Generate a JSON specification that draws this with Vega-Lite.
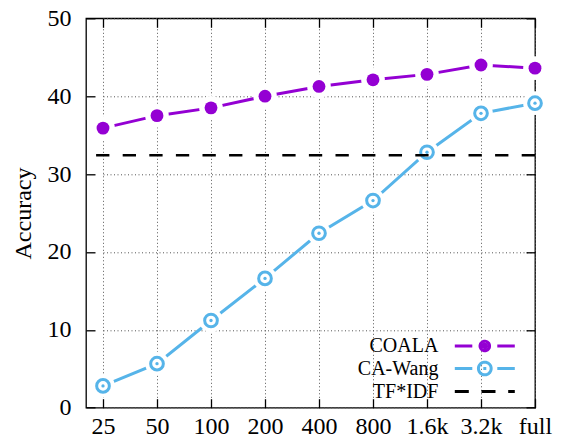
{
  "$schema": "https://vega.github.io/schema/vega-lite/v6.json",
  "width": 449,
  "height": 389.4,
  "autosize": "none",
  "padding": {"left": 86, "top": 18.3, "right": 26, "bottom": 32.3},
  "background": "white",
  "config": {
    "view": {"stroke": "black", "strokeWidth": 1.3},
    "font": "Liberation Serif",
    "axis": {
      "labelFont": "Liberation Serif",
      "labelFontSize": 24,
      "labelColor": "black",
      "titleFont": "Liberation Serif",
      "titleFontSize": 24,
      "titleFontWeight": "normal",
      "titleColor": "black",
      "domain": false,
      "tickColor": "black",
      "tickWidth": 1.3,
      "tickSize": -9,
      "gridColor": "#555555",
      "gridDash": [1, 2.5],
      "gridWidth": 1,
      "labelOverlap": false
    }
  },
  "datasets": {
    "acc": [
      {"n": "25", "i": 0, "series": "COALA", "acc": 35.9},
      {"n": "50", "i": 1, "series": "COALA", "acc": 37.5},
      {"n": "100", "i": 2, "series": "COALA", "acc": 38.5},
      {"n": "200", "i": 3, "series": "COALA", "acc": 40.0},
      {"n": "400", "i": 4, "series": "COALA", "acc": 41.25},
      {"n": "800", "i": 5, "series": "COALA", "acc": 42.1},
      {"n": "1.6k", "i": 6, "series": "COALA", "acc": 42.8},
      {"n": "3.2k", "i": 7, "series": "COALA", "acc": 44.0},
      {"n": "full", "i": 8, "series": "COALA", "acc": 43.6},
      {"n": "25", "i": 0, "series": "CA-Wang", "acc": 2.8},
      {"n": "50", "i": 1, "series": "CA-Wang", "acc": 5.65},
      {"n": "100", "i": 2, "series": "CA-Wang", "acc": 11.2},
      {"n": "200", "i": 3, "series": "CA-Wang", "acc": 16.6},
      {"n": "400", "i": 4, "series": "CA-Wang", "acc": 22.4},
      {"n": "800", "i": 5, "series": "CA-Wang", "acc": 26.6},
      {"n": "1.6k", "i": 6, "series": "CA-Wang", "acc": 32.8},
      {"n": "3.2k", "i": 7, "series": "CA-Wang", "acc": 37.8},
      {"n": "full", "i": 8, "series": "CA-Wang", "acc": 39.1}
    ],
    "tfidf": [
      {"series": "TF*IDF", "acc": 32.4}
    ]
  },
  "layer": [
    {
      "data": {"name": "acc"},
      "mark": {"type": "line", "strokeWidth": 3},
      "encoding": {
        "x": {
          "field": "n", "type": "ordinal", "sort": {"field": "i", "op": "min"},
          "scale": {"type": "point", "range": [17, 449], "padding": 0},
          "axis": {"orient": "bottom", "title": null, "labelAngle": 0, "labelPadding": 16, "grid": true}
        },
        "y": {
          "field": "acc", "type": "quantitative",
          "scale": {"domain": [0, 50], "nice": false, "zero": true},
          "axis": {"orient": "left", "title": "Accuracy", "values": [0, 10, 20, 30, 40, 50], "labelPadding": 24, "grid": true, "titleX": -56, "titleBaseline": "alphabetic"}
        },
        "color": {
          "field": "series", "type": "nominal",
          "scale": {"domain": ["COALA", "CA-Wang", "TF*IDF"], "range": ["#9400D3", "#56B4E9", "#000000"]},
          "legend": {
            "orient": "none", "legendX": 388.8, "legendY": 317.7, "title": null,
            "symbolSize": 100, "symbolStrokeWidth": 3, "symbolType": "stroke",
            "symbolFillColor": "transparent",
            "labelFont": "Liberation Serif", "labelFontSize": 20, "labelColor": "black",
            "labelAlign": "right", "labelOffset": -56.4, "labelLimit": 0,
            "rowPadding": -1.5, "padding": 0,
            "encode": {
              "symbols": {
                "update": {
                  "shape": {"signal": "datum.value === 'COALA' ? 'M-6,0H-2.5M2.5,0H6M0.95,0A0.95,0.95,0,1,1,-0.95,0A0.95,0.95,0,1,1,0.95,0M0.35,0A0.35,0.35,0,1,1,-0.35,0A0.35,0.35,0,1,1,0.35,0M-0.2,0H0.2' : datum.value === 'CA-Wang' ? 'M-6,0H-2.5M2.5,0H6M1.27,0A1.27,1.27,0,1,1,-1.27,0A1.27,1.27,0,1,1,1.27,0M-0.3,0H0.3' : 'M-6,0H6'"},
                  "fill": {"value": "transparent"},
                  "stroke": {"scale": "color", "field": "value"},
                  "strokeDash": {"signal": "datum.value === 'TF*IDF' ? [14, 12.7] : [1, 0]"},
                  "strokeWidth": {"value": 3},
                  "opacity": {"value": 1}
                }
              }
            }
          }
        },
        "detail": {"field": "series"}
      }
    },
    {
      "data": {"name": "acc"},
      "mark": {"type": "point", "filled": true, "shape": "circle", "color": "white", "size": 560, "opacity": 1},
      "encoding": {
        "x": {
          "field": "n", "type": "ordinal", "sort": {"field": "i", "op": "min"},
          "axis": {"orient": "top", "title": null, "labels": false, "grid": false}
        },
        "y": {"field": "acc", "type": "quantitative", "axis": null}
      }
    },
    {
      "data": {"name": "acc"},
      "transform": [{"filter": "datum.series === 'COALA'"}],
      "mark": {"type": "point", "filled": true, "shape": "circle", "size": 165, "opacity": 1, "color": "#9400D3"},
      "encoding": {
        "x": {"field": "n", "type": "ordinal", "sort": {"field": "i", "op": "min"}, "axis": null},
        "y": {"field": "acc", "type": "quantitative", "axis": null}
      }
    },
    {
      "data": {"name": "acc"},
      "transform": [{"filter": "datum.series === 'CA-Wang'"}],
      "mark": {"type": "point", "filled": false, "shape": "circle", "size": 161, "strokeWidth": 3, "opacity": 1, "color": "#56B4E9"},
      "encoding": {
        "x": {"field": "n", "type": "ordinal", "sort": {"field": "i", "op": "min"}, "axis": null},
        "y": {"field": "acc", "type": "quantitative", "axis": null}
      }
    },
    {
      "data": {"name": "acc"},
      "transform": [{"filter": "datum.series === 'CA-Wang'"}],
      "mark": {"type": "point", "filled": true, "shape": "circle", "size": 11, "opacity": 1, "color": "#56B4E9"},
      "encoding": {
        "x": {"field": "n", "type": "ordinal", "sort": {"field": "i", "op": "min"}, "axis": null},
        "y": {"field": "acc", "type": "quantitative", "axis": null}
      }
    },
    {
      "data": {"name": "tfidf"},
      "mark": {"type": "rule", "strokeWidth": 2.5, "strokeDash": [13.3, 13.3]},
      "encoding": {
        "y": {
          "field": "acc", "type": "quantitative",
          "axis": {"orient": "right", "title": null, "labels": false, "grid": false, "values": [0, 10, 20, 30, 40, 50]}
        },
        "color": {"field": "series", "type": "nominal"}
      }
    }
  ],
  "resolve": {"axis": {"x": "independent", "y": "independent"}}
}
